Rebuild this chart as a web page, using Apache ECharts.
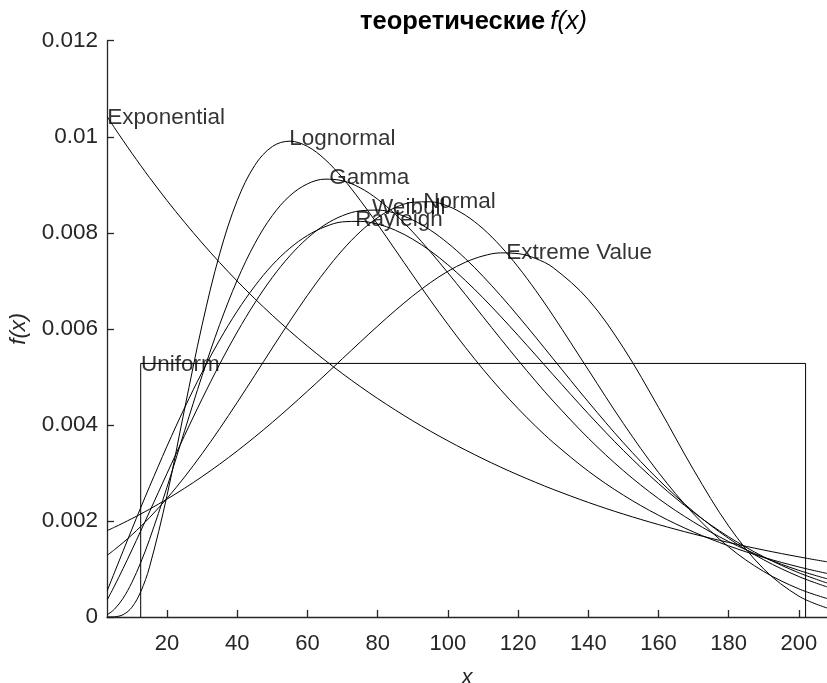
<!DOCTYPE html>
<html>
<head>
<meta charset="utf-8">
<title>теоретические f(x)</title>
<script src="https://cdn.jsdelivr.net/npm/echarts@6/dist/echarts.min.js"></script>
<style>
  html, body { margin: 0; padding: 0; background: #fff; }
  #chart { width: 827px; height: 683px; }
</style>
</head>
<body>
<div id="chart"></div>
<script>
// Sample points along x shared by every fitted density
const xValues = [3, 5, 7.5, 10, 12.5, 15, 20, 25, 30, 35, 40, 45, 50, 55, 60, 65, 70, 75, 80, 85, 90, 95, 100, 105, 110, 115, 120, 125, 130, 140, 150, 160, 170, 180, 190, 200, 208];

// Density values f(x) for each fitted distribution
const exponential = [0.010412, 0.010190, 0.009920, 0.009657, 0.009401, 0.009151, 0.008672, 0.008219, 0.007788, 0.007380, 0.006994, 0.006628, 0.006281, 0.005953, 0.005641, 0.005346, 0.005066, 0.004801, 0.004549, 0.004311, 0.004085, 0.003871, 0.003669, 0.003477, 0.003295, 0.003122, 0.002959, 0.002804, 0.002657, 0.002386, 0.002143, 0.001925, 0.001728, 0.001552, 0.001394, 0.001252, 0.001149];
const normal = [0.001287, 0.001400, 0.001550, 0.001711, 0.001884, 0.002068, 0.002470, 0.002916, 0.003402, 0.003922, 0.004469, 0.005033, 0.005602, 0.006161, 0.006698, 0.007196, 0.007642, 0.008019, 0.008317, 0.008525, 0.008636, 0.008646, 0.008555, 0.008366, 0.008086, 0.007723, 0.007290, 0.006801, 0.006272, 0.005147, 0.004029, 0.003010, 0.002145, 0.001458, 0.000946, 0.000585, 0.000385];
const rayleigh = [0.000553, 0.000921, 0.001377, 0.001829, 0.002275, 0.002712, 0.003558, 0.004356, 0.005097, 0.005770, 0.006370, 0.006890, 0.007330, 0.007680, 0.007944, 0.008126, 0.008228, 0.008238, 0.008181, 0.008055, 0.007866, 0.007624, 0.007335, 0.007006, 0.006647, 0.006263, 0.005864, 0.005455, 0.005043, 0.004233, 0.003469, 0.002780, 0.002178, 0.001669, 0.001252, 0.000920, 0.000708];
const weibull = [0.000361, 0.000642, 0.001012, 0.001397, 0.001790, 0.002189, 0.002990, 0.003780, 0.004543, 0.005265, 0.005934, 0.006539, 0.007071, 0.007522, 0.007888, 0.008168, 0.008357, 0.008458, 0.008473, 0.008408, 0.008266, 0.008056, 0.007785, 0.007462, 0.007095, 0.006695, 0.006269, 0.005827, 0.005376, 0.004480, 0.003629, 0.002860, 0.002193, 0.001636, 0.001190, 0.000842, 0.000627];
const gamma = [0.0000495, 0.000160, 0.000392, 0.000721, 0.001133, 0.001612, 0.002704, 0.003876, 0.005028, 0.006090, 0.007015, 0.007775, 0.008360, 0.008771, 0.009019, 0.009117, 0.009083, 0.008938, 0.008699, 0.008387, 0.008018, 0.007607, 0.007168, 0.006714, 0.006254, 0.005796, 0.005347, 0.004912, 0.004495, 0.003724, 0.003047, 0.002466, 0.001977, 0.001571, 0.001240, 0.000971, 0.000796];
const lognormal = [0.0000001, 0.0000045, 0.000049, 0.000203, 0.000526, 0.001038, 0.002530, 0.004331, 0.006084, 0.007563, 0.008673, 0.009405, 0.009797, 0.009908, 0.009799, 0.009528, 0.009142, 0.008680, 0.008175, 0.007648, 0.007118, 0.006597, 0.006094, 0.005614, 0.005160, 0.004736, 0.004340, 0.003973, 0.003635, 0.003038, 0.002537, 0.002119, 0.001770, 0.001481, 0.001241, 0.001042, 0.000907];
const extremeValue = [0.001800, 0.001868, 0.001957, 0.002049, 0.002145, 0.002244, 0.002455, 0.002681, 0.002924, 0.003183, 0.003458, 0.003749, 0.004054, 0.004373, 0.004702, 0.005039, 0.005381, 0.005722, 0.006058, 0.006382, 0.006686, 0.006961, 0.007198, 0.007387, 0.007518, 0.007582, 0.007567, 0.007465, 0.007274, 0.006611, 0.005605, 0.004366, 0.003064, 0.001892, 0.000998, 0.000433, 0.000188];

// Uniform density: a box from the sample minimum to the sample maximum
const uniformX = [12.5, 12.5, 201.9, 201.9];
const uniformY = [0, 0.00528, 0.00528, 0];

// Curve names written beside each curve's peak
const labelNames = ['Exponential', 'Lognormal', 'Gamma', 'Weibull', 'Rayleigh', 'Normal', 'Extreme Value', 'Uniform'];
const labelX = [3, 54.8, 66.2, 78.4, 73.6, 93, 116.6, 12.6];
const labelY = [0.0104, 0.00995, 0.00914, 0.00853, 0.00827, 0.00865, 0.00758, 0.00526];

// Axis ticks
const xTicks = [20, 40, 60, 80, 100, 120, 140, 160, 180, 200];
const yTicks = [0, 0.002, 0.004, 0.006, 0.008, 0.01, 0.012];

const FONT = '"Liberation Sans", Arial, Helvetica, sans-serif';
const AXIS_COLOR = '#262626';

function pairs(xs, ys) {
  return xs.map((x, i) => [x, ys[i]]);
}

function curve(name, ys) {
  return {
    name: name,
    type: 'line',
    data: pairs(xValues, ys),
    smooth: 0.35,
    showSymbol: false,
    symbol: 'none',
    lineStyle: { color: '#000', width: 1 },
    silent: true,
    z: 2
  };
}

const chart = echarts.init(document.getElementById('chart'), null, { renderer: 'canvas' });

chart.setOption({
  animation: false,
  backgroundColor: '#fff',
  title: {
    text: '{b|теоретические} {i|f(x)}',
    left: 355,
    top: 4,
    textStyle: {
      rich: {
        b: { fontFamily: FONT, fontSize: 25.5, fontWeight: 'bold', color: '#000' },
        i: { fontFamily: FONT, fontSize: 25.5, fontStyle: 'italic', fontWeight: 'normal', color: '#000' }
      }
    }
  },
  grid: {
    left: 107,
    right: 0,
    top: 40.7,
    bottom: 66,
    containLabel: false,
    outerBoundsMode: 'none'
  },
  xAxis: {
    type: 'value',
    min: 2.9,
    max: 208,
    name: 'x',
    nameLocation: 'middle',
    nameGap: 50,
    nameTextStyle: { fontFamily: FONT, fontSize: 22, fontStyle: 'italic', color: AXIS_COLOR },
    splitLine: { show: false },
    axisLine: { show: true, onZero: false, lineStyle: { color: AXIS_COLOR, width: 1.3 } },
    axisTick: { show: true, inside: true, length: 7, customValues: xTicks, lineStyle: { color: AXIS_COLOR, width: 1.3 } },
    axisLabel: { customValues: xTicks, margin: 16, fontFamily: FONT, fontSize: 22, color: AXIS_COLOR }
  },
  yAxis: {
    type: 'value',
    min: 0,
    max: 0.012,
    interval: 0.002,
    name: 'f(x)',
    nameLocation: 'middle',
    nameGap: 77,
    nameRotate: 90,
    nameTextStyle: { fontFamily: FONT, fontSize: 22, fontStyle: 'italic', color: AXIS_COLOR },
    splitLine: { show: false },
    axisLine: { show: true, onZero: false, lineStyle: { color: AXIS_COLOR, width: 1.3 } },
    axisTick: { show: true, inside: true, length: 7, lineStyle: { color: AXIS_COLOR, width: 1.3 } },
    axisLabel: {
      customValues: yTicks,
      margin: 9,
      fontFamily: FONT,
      fontSize: 22.5,
      color: AXIS_COLOR,
      formatter: function (v) { return String(+v.toFixed(3)); }
    }
  },
  series: [
    curve('Exponential', exponential),
    curve('Lognormal', lognormal),
    curve('Gamma', gamma),
    curve('Weibull', weibull),
    curve('Rayleigh', rayleigh),
    curve('Normal', normal),
    curve('Extreme Value', extremeValue),
    {
      name: 'Uniform',
      type: 'line',
      data: pairs(uniformX, uniformY),
      showSymbol: false,
      symbol: 'none',
      lineStyle: { color: '#000', width: 1 },
      silent: true,
      z: 2
    },
    {
      name: 'labels',
      type: 'scatter',
      symbolSize: 0,
      silent: true,
      z: 5,
      data: labelNames.map((n, i) => ({ name: n, value: [labelX[i], labelY[i]] })),
      label: {
        show: true,
        position: 'right',
        distance: 0,
        formatter: '{b}',
        fontFamily: FONT,
        fontSize: 22.5,
        color: '#000'
      }
    }
  ]
});
</script>
</body>
</html>
